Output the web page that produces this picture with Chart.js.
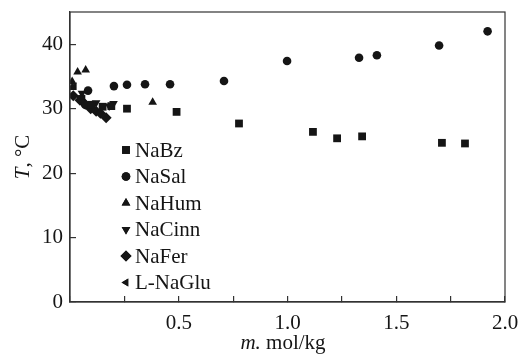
<!DOCTYPE html>
<html>
<head>
<meta charset="utf-8">
<script src="https://cdn.jsdelivr.net/npm/chart.js@4/dist/chart.umd.min.js"></script>
<style>
  html, body { margin: 0; padding: 0; background: #fff; }
  #wrap { width: 523px; height: 357px; }
</style>
</head>
<body>
<div id="wrap"><canvas id="chart" width="523" height="357"></canvas></div>
<script>
const SERIES = ["NaBz", "NaSal", "NaHum", "NaCinn", "NaFer", "L-NaGlu"]

// m, mol/kg and T, °C
const naBzM = [0.05, 0.10, 0.15, 0.19, 0.262, 0.49, 0.777, 1.117, 1.228, 1.343, 1.710, 1.816]
const naBzT = [31.5, 30.6, 30.3, 30.4, 30.0, 29.5, 27.7, 26.4, 25.4, 25.7, 24.7, 24.6]

const naSalM = [0.07, 0.083, 0.202, 0.262, 0.345, 0.46, 0.708, 0.998, 1.329, 1.411, 1.697, 1.92]
const naSalT = [30.6, 32.8, 33.5, 33.7, 33.8, 33.8, 34.3, 37.4, 37.9, 38.3, 39.8, 42.0]

const naHumM = [0.01, 0.01, 0.035, 0.072, 0.38]
const naHumT = [34.2, 33.3, 35.7, 36.0, 31.0]

const naCinnM = [0.055, 0.12, 0.18, 0.20]
const naCinnT = [32.4, 30.9, 30.4, 30.8]

const naFerM = [0.015, 0.046, 0.07, 0.095, 0.12, 0.14, 0.166]
const naFerT = [32.0, 31.3, 30.7, 30.0, 29.6, 29.3, 28.6]

const naGluM = [0.02, 0.06, 0.09]
const naGluT = [33.5, 31.6, 30.5]

const X_TICK_LABELS = ["0.5", "1.0", "1.5", "2.0"]
const Y_TICK_LABELS = ["0", "10", "20", "30", "40"]

const FONT = "'Liberation Serif', 'DejaVu Serif', serif"
const SIZE = 21
const INK = "#151515"

function points(xs, ys) {
  return xs.map(function (x, i) {
    return { x: x, y: ys[i] }
  })
}

const styles = [
  { pointStyle: "rect", radius: 5.5, rotation: 0 },
  { pointStyle: "circle", radius: 4.3, rotation: 0 },
  { pointStyle: "triangle", radius: 5, rotation: 0 },
  { pointStyle: "triangle", radius: 5, rotation: 180 },
  { pointStyle: "rectRot", radius: 5.5, rotation: 0 },
  { pointStyle: "triangle", radius: 4.5, rotation: -90 },
]

const raw = [
  points(naBzM, naBzT),
  points(naSalM, naSalT),
  points(naHumM, naHumT),
  points(naCinnM, naCinnT),
  points(naFerM, naFerT),
  points(naGluM, naGluT),
]

const datasets = SERIES.map(function (name, i) {
  return {
    label: name,
    data: raw[i],
    showLine: false,
    pointStyle: styles[i].pointStyle,
    pointRadius: styles[i].radius,
    pointRotation: styles[i].rotation,
    backgroundColor: INK,
    borderColor: INK,
    borderWidth: 0,
  }
})

// frame, legend inside the plot and axis titles with italic symbols
const extras = {
  id: "extras",
  afterDraw(chart) {
    const ctx = chart.ctx
    const area = chart.chartArea
    const regular = SIZE + "px " + FONT
    const italic = "italic " + SIZE + "px " + FONT
    ctx.save()
    ctx.strokeStyle = "#333"
    ctx.lineWidth = 1.2
    ctx.strokeRect(area.left, area.top, area.right - area.left, area.bottom - area.top)

    ctx.fillStyle = INK
    ctx.font = regular
    ctx.textBaseline = "middle"
    ctx.textAlign = "left"
    chart.data.datasets.forEach(function (ds, i) {
      const y = 150 + i * 26.5
      Chart.helpers.drawPoint(ctx, {
        pointStyle: ds.pointStyle,
        rotation: ds.pointRotation,
        radius: ds.pointRadius,
        borderWidth: 0,
      }, 126, y)
      ctx.fill()
      ctx.fillText(ds.label, 135, y + 1)
    })

    // x title
    ctx.textBaseline = "alphabetic"
    ctx.font = italic
    const a = "m."
    const wa = ctx.measureText(a).width
    ctx.font = regular
    const b = " mol/kg"
    const wb = ctx.measureText(b).width
    let x0 = 283 - (wa + wb) / 2
    ctx.font = italic
    ctx.fillText(a, x0, 349)
    ctx.font = regular
    ctx.fillText(b, x0 + wa, 349)

    // y title
    ctx.translate(29, 157)
    ctx.rotate(-Math.PI / 2)
    ctx.font = italic
    const c = "T"
    const wc = ctx.measureText(c).width
    ctx.font = regular
    const d = ", °C"
    const wd = ctx.measureText(d).width
    x0 = -(wc + wd) / 2
    ctx.font = italic
    ctx.fillText(c, x0, 0)
    ctx.font = regular
    ctx.fillText(d, x0 + wc, 0)
    ctx.restore()
  },
}

new Chart(document.getElementById("chart"), {
  type: "scatter",
  data: { datasets: datasets },
  plugins: [extras],
  options: {
    responsive: false,
    animation: false,
    layout: { padding: { top: 12, right: 18, left: 0, bottom: 0 } },
    plugins: {
      legend: { display: false },
      tooltip: { enabled: false },
    },
    scales: {
      x: {
        type: "linear",
        min: 0,
        max: 2,
        afterFit(scale) {
          scale.height = 55
          scale.paddingLeft = 0
          scale.paddingRight = 0
        },
        border: { display: true, color: "#333", width: 1.2 },
        grid: { drawOnChartArea: false, tickLength: -6, color: "#333", lineWidth: 1.2 },
        ticks: {
          stepSize: 0.25,
          autoSkip: false,
          maxRotation: 0,
          padding: 15,
          color: INK,
          font: { family: FONT, size: SIZE },
          callback(value) {
            const label = value.toFixed(1)
            return X_TICK_LABELS.includes(label) && Math.abs(value * 2 - Math.round(value * 2)) < 1e-6 ? label : ""
          },
        },
      },
      y: {
        min: 0,
        max: 45,
        afterFit(scale) {
          scale.width = 70
          scale.paddingTop = 0
          scale.paddingBottom = 0
        },
        border: { display: true, color: "#333", width: 1.2 },
        grid: { drawOnChartArea: false, tickLength: -6, color: "#333", lineWidth: 1.2 },
        ticks: {
          stepSize: 10,
          padding: 13,
          color: INK,
          font: { family: FONT, size: SIZE },
          callback(value) {
            const label = String(value)
            return Y_TICK_LABELS.includes(label) ? label : null
          },
        },
      },
    },
  },
})
</script>
</body>
</html>
